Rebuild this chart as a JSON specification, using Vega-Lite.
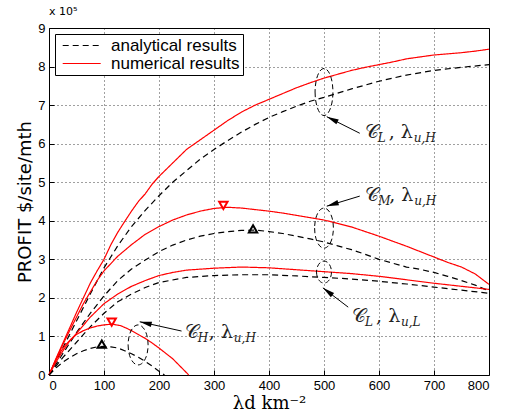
{
  "$schema": "https://vega.github.io/schema/vega-lite/v6.json",
  "width": 440,
  "height": 347,
  "autosize": {"type": "none"},
  "padding": {"left": 49, "top": 28, "right": 16, "bottom": 39},
  "background": "#ffffff",
  "title": {"text": "x 10⁵", "anchor": "start", "frame": "group", "fontSize": 11, "font": "DejaVu Sans", "fontWeight": "normal", "offset": 5, "color": "#000000"},
  "config": {
    "view": {"stroke": "#000000", "strokeWidth": 1},
    "axis": {"grid": true, "gridColor": "#000000", "gridDash": [1, 3], "gridOpacity": 0.75, "domain": false, "tickColor": "#000000", "tickSize": -5, "labelFont": "Liberation Sans", "labelFontSize": 13, "labelColor": "#000000", "titleColor": "#000000", "titleFontWeight": "normal"},
    "legend": {"symbolType": "M -0.5 0 L 4.5 0", "symbolSize": 231, "symbolStrokeWidth": 1.2, "labelFont": "Liberation Sans", "labelFontSize": 17, "labelColor": "#000000", "fillColor": "#ffffff", "strokeColor": "#000000", "padding": 3, "rowPadding": 0, "labelOffset": 36}
  },
  "datasets": {
    "curves": [
      {"x": 0, "y": 0, "type": "numerical results", "curve": "R1"},
      {"x": 12.5, "y": 0.42, "type": "numerical results", "curve": "R1"},
      {"x": 25, "y": 0.82, "type": "numerical results", "curve": "R1"},
      {"x": 37.5, "y": 1.22, "type": "numerical results", "curve": "R1"},
      {"x": 50, "y": 1.62, "type": "numerical results", "curve": "R1"},
      {"x": 62.5, "y": 2.0, "type": "numerical results", "curve": "R1"},
      {"x": 75, "y": 2.38, "type": "numerical results", "curve": "R1"},
      {"x": 87.5, "y": 2.7, "type": "numerical results", "curve": "R1"},
      {"x": 100, "y": 3.0, "type": "numerical results", "curve": "R1"},
      {"x": 112.5, "y": 3.38, "type": "numerical results", "curve": "R1"},
      {"x": 125, "y": 3.7, "type": "numerical results", "curve": "R1"},
      {"x": 137.5, "y": 3.98, "type": "numerical results", "curve": "R1"},
      {"x": 150, "y": 4.25, "type": "numerical results", "curve": "R1"},
      {"x": 162.5, "y": 4.5, "type": "numerical results", "curve": "R1"},
      {"x": 175, "y": 4.7, "type": "numerical results", "curve": "R1"},
      {"x": 187.5, "y": 4.95, "type": "numerical results", "curve": "R1"},
      {"x": 200, "y": 5.15, "type": "numerical results", "curve": "R1"},
      {"x": 225, "y": 5.5, "type": "numerical results", "curve": "R1"},
      {"x": 250, "y": 5.85, "type": "numerical results", "curve": "R1"},
      {"x": 275, "y": 6.1, "type": "numerical results", "curve": "R1"},
      {"x": 300, "y": 6.35, "type": "numerical results", "curve": "R1"},
      {"x": 325, "y": 6.6, "type": "numerical results", "curve": "R1"},
      {"x": 350, "y": 6.82, "type": "numerical results", "curve": "R1"},
      {"x": 375, "y": 7.0, "type": "numerical results", "curve": "R1"},
      {"x": 400, "y": 7.15, "type": "numerical results", "curve": "R1"},
      {"x": 425, "y": 7.3, "type": "numerical results", "curve": "R1"},
      {"x": 450, "y": 7.45, "type": "numerical results", "curve": "R1"},
      {"x": 475, "y": 7.58, "type": "numerical results", "curve": "R1"},
      {"x": 500, "y": 7.7, "type": "numerical results", "curve": "R1"},
      {"x": 525, "y": 7.8, "type": "numerical results", "curve": "R1"},
      {"x": 550, "y": 7.9, "type": "numerical results", "curve": "R1"},
      {"x": 575, "y": 7.98, "type": "numerical results", "curve": "R1"},
      {"x": 600, "y": 8.05, "type": "numerical results", "curve": "R1"},
      {"x": 625, "y": 8.12, "type": "numerical results", "curve": "R1"},
      {"x": 650, "y": 8.2, "type": "numerical results", "curve": "R1"},
      {"x": 675, "y": 8.25, "type": "numerical results", "curve": "R1"},
      {"x": 700, "y": 8.3, "type": "numerical results", "curve": "R1"},
      {"x": 725, "y": 8.33, "type": "numerical results", "curve": "R1"},
      {"x": 750, "y": 8.36, "type": "numerical results", "curve": "R1"},
      {"x": 775, "y": 8.4, "type": "numerical results", "curve": "R1"},
      {"x": 800, "y": 8.45, "type": "numerical results", "curve": "R1"},

      {"x": 0, "y": 0, "type": "analytical results", "curve": "B1"},
      {"x": 25, "y": 0.7, "type": "analytical results", "curve": "B1"},
      {"x": 50, "y": 1.4, "type": "analytical results", "curve": "B1"},
      {"x": 75, "y": 2.1, "type": "analytical results", "curve": "B1"},
      {"x": 100, "y": 2.78, "type": "analytical results", "curve": "B1"},
      {"x": 125, "y": 3.35, "type": "analytical results", "curve": "B1"},
      {"x": 150, "y": 3.85, "type": "analytical results", "curve": "B1"},
      {"x": 175, "y": 4.27, "type": "analytical results", "curve": "B1"},
      {"x": 200, "y": 4.65, "type": "analytical results", "curve": "B1"},
      {"x": 225, "y": 5.0, "type": "analytical results", "curve": "B1"},
      {"x": 250, "y": 5.3, "type": "analytical results", "curve": "B1"},
      {"x": 275, "y": 5.6, "type": "analytical results", "curve": "B1"},
      {"x": 300, "y": 5.85, "type": "analytical results", "curve": "B1"},
      {"x": 325, "y": 6.08, "type": "analytical results", "curve": "B1"},
      {"x": 350, "y": 6.3, "type": "analytical results", "curve": "B1"},
      {"x": 375, "y": 6.5, "type": "analytical results", "curve": "B1"},
      {"x": 400, "y": 6.68, "type": "analytical results", "curve": "B1"},
      {"x": 425, "y": 6.83, "type": "analytical results", "curve": "B1"},
      {"x": 450, "y": 6.97, "type": "analytical results", "curve": "B1"},
      {"x": 475, "y": 7.1, "type": "analytical results", "curve": "B1"},
      {"x": 500, "y": 7.2, "type": "analytical results", "curve": "B1"},
      {"x": 550, "y": 7.42, "type": "analytical results", "curve": "B1"},
      {"x": 600, "y": 7.62, "type": "analytical results", "curve": "B1"},
      {"x": 650, "y": 7.78, "type": "analytical results", "curve": "B1"},
      {"x": 700, "y": 7.9, "type": "analytical results", "curve": "B1"},
      {"x": 750, "y": 7.98, "type": "analytical results", "curve": "B1"},
      {"x": 800, "y": 8.05, "type": "analytical results", "curve": "B1"},

      {"x": 0, "y": 0, "type": "numerical results", "curve": "R2"},
      {"x": 12.5, "y": 0.4, "type": "numerical results", "curve": "R2"},
      {"x": 25, "y": 0.78, "type": "numerical results", "curve": "R2"},
      {"x": 37.5, "y": 1.15, "type": "numerical results", "curve": "R2"},
      {"x": 50, "y": 1.5, "type": "numerical results", "curve": "R2"},
      {"x": 62.5, "y": 1.85, "type": "numerical results", "curve": "R2"},
      {"x": 75, "y": 2.15, "type": "numerical results", "curve": "R2"},
      {"x": 87.5, "y": 2.45, "type": "numerical results", "curve": "R2"},
      {"x": 100, "y": 2.7, "type": "numerical results", "curve": "R2"},
      {"x": 125, "y": 3.08, "type": "numerical results", "curve": "R2"},
      {"x": 150, "y": 3.38, "type": "numerical results", "curve": "R2"},
      {"x": 175, "y": 3.65, "type": "numerical results", "curve": "R2"},
      {"x": 200, "y": 3.85, "type": "numerical results", "curve": "R2"},
      {"x": 225, "y": 4.02, "type": "numerical results", "curve": "R2"},
      {"x": 250, "y": 4.15, "type": "numerical results", "curve": "R2"},
      {"x": 275, "y": 4.25, "type": "numerical results", "curve": "R2"},
      {"x": 300, "y": 4.32, "type": "numerical results", "curve": "R2"},
      {"x": 325, "y": 4.35, "type": "numerical results", "curve": "R2"},
      {"x": 350, "y": 4.33, "type": "numerical results", "curve": "R2"},
      {"x": 375, "y": 4.29, "type": "numerical results", "curve": "R2"},
      {"x": 400, "y": 4.25, "type": "numerical results", "curve": "R2"},
      {"x": 425, "y": 4.2, "type": "numerical results", "curve": "R2"},
      {"x": 450, "y": 4.14, "type": "numerical results", "curve": "R2"},
      {"x": 475, "y": 4.08, "type": "numerical results", "curve": "R2"},
      {"x": 500, "y": 4.02, "type": "numerical results", "curve": "R2"},
      {"x": 525, "y": 3.93, "type": "numerical results", "curve": "R2"},
      {"x": 550, "y": 3.84, "type": "numerical results", "curve": "R2"},
      {"x": 575, "y": 3.72, "type": "numerical results", "curve": "R2"},
      {"x": 600, "y": 3.6, "type": "numerical results", "curve": "R2"},
      {"x": 625, "y": 3.47, "type": "numerical results", "curve": "R2"},
      {"x": 650, "y": 3.34, "type": "numerical results", "curve": "R2"},
      {"x": 675, "y": 3.2, "type": "numerical results", "curve": "R2"},
      {"x": 700, "y": 3.06, "type": "numerical results", "curve": "R2"},
      {"x": 725, "y": 2.92, "type": "numerical results", "curve": "R2"},
      {"x": 750, "y": 2.8, "type": "numerical results", "curve": "R2"},
      {"x": 775, "y": 2.62, "type": "numerical results", "curve": "R2"},
      {"x": 800, "y": 2.35, "type": "numerical results", "curve": "R2"},

      {"x": 0, "y": 0, "type": "analytical results", "curve": "B2"},
      {"x": 25, "y": 0.55, "type": "analytical results", "curve": "B2"},
      {"x": 50, "y": 1.1, "type": "analytical results", "curve": "B2"},
      {"x": 75, "y": 1.6, "type": "analytical results", "curve": "B2"},
      {"x": 100, "y": 2.05, "type": "analytical results", "curve": "B2"},
      {"x": 125, "y": 2.45, "type": "analytical results", "curve": "B2"},
      {"x": 150, "y": 2.75, "type": "analytical results", "curve": "B2"},
      {"x": 175, "y": 2.98, "type": "analytical results", "curve": "B2"},
      {"x": 200, "y": 3.2, "type": "analytical results", "curve": "B2"},
      {"x": 225, "y": 3.37, "type": "analytical results", "curve": "B2"},
      {"x": 250, "y": 3.5, "type": "analytical results", "curve": "B2"},
      {"x": 275, "y": 3.6, "type": "analytical results", "curve": "B2"},
      {"x": 300, "y": 3.67, "type": "analytical results", "curve": "B2"},
      {"x": 325, "y": 3.72, "type": "analytical results", "curve": "B2"},
      {"x": 350, "y": 3.75, "type": "analytical results", "curve": "B2"},
      {"x": 375, "y": 3.76, "type": "analytical results", "curve": "B2"},
      {"x": 400, "y": 3.72, "type": "analytical results", "curve": "B2"},
      {"x": 425, "y": 3.67, "type": "analytical results", "curve": "B2"},
      {"x": 450, "y": 3.6, "type": "analytical results", "curve": "B2"},
      {"x": 475, "y": 3.53, "type": "analytical results", "curve": "B2"},
      {"x": 500, "y": 3.45, "type": "analytical results", "curve": "B2"},
      {"x": 525, "y": 3.35, "type": "analytical results", "curve": "B2"},
      {"x": 550, "y": 3.25, "type": "analytical results", "curve": "B2"},
      {"x": 575, "y": 3.13, "type": "analytical results", "curve": "B2"},
      {"x": 600, "y": 3.0, "type": "analytical results", "curve": "B2"},
      {"x": 625, "y": 2.9, "type": "analytical results", "curve": "B2"},
      {"x": 650, "y": 2.8, "type": "analytical results", "curve": "B2"},
      {"x": 675, "y": 2.74, "type": "analytical results", "curve": "B2"},
      {"x": 700, "y": 2.66, "type": "analytical results", "curve": "B2"},
      {"x": 725, "y": 2.56, "type": "analytical results", "curve": "B2"},
      {"x": 750, "y": 2.45, "type": "analytical results", "curve": "B2"},
      {"x": 775, "y": 2.33, "type": "analytical results", "curve": "B2"},
      {"x": 800, "y": 2.18, "type": "analytical results", "curve": "B2"},

      {"x": 0, "y": 0, "type": "numerical results", "curve": "R3"},
      {"x": 12.5, "y": 0.33, "type": "numerical results", "curve": "R3"},
      {"x": 25, "y": 0.62, "type": "numerical results", "curve": "R3"},
      {"x": 37.5, "y": 0.88, "type": "numerical results", "curve": "R3"},
      {"x": 50, "y": 1.08, "type": "numerical results", "curve": "R3"},
      {"x": 75, "y": 1.5, "type": "numerical results", "curve": "R3"},
      {"x": 100, "y": 1.85, "type": "numerical results", "curve": "R3"},
      {"x": 125, "y": 2.1, "type": "numerical results", "curve": "R3"},
      {"x": 150, "y": 2.3, "type": "numerical results", "curve": "R3"},
      {"x": 175, "y": 2.45, "type": "numerical results", "curve": "R3"},
      {"x": 200, "y": 2.58, "type": "numerical results", "curve": "R3"},
      {"x": 225, "y": 2.66, "type": "numerical results", "curve": "R3"},
      {"x": 250, "y": 2.72, "type": "numerical results", "curve": "R3"},
      {"x": 300, "y": 2.77, "type": "numerical results", "curve": "R3"},
      {"x": 350, "y": 2.8, "type": "numerical results", "curve": "R3"},
      {"x": 400, "y": 2.78, "type": "numerical results", "curve": "R3"},
      {"x": 450, "y": 2.73, "type": "numerical results", "curve": "R3"},
      {"x": 500, "y": 2.68, "type": "numerical results", "curve": "R3"},
      {"x": 550, "y": 2.63, "type": "numerical results", "curve": "R3"},
      {"x": 600, "y": 2.56, "type": "numerical results", "curve": "R3"},
      {"x": 650, "y": 2.47, "type": "numerical results", "curve": "R3"},
      {"x": 700, "y": 2.38, "type": "numerical results", "curve": "R3"},
      {"x": 750, "y": 2.3, "type": "numerical results", "curve": "R3"},
      {"x": 800, "y": 2.22, "type": "numerical results", "curve": "R3"},

      {"x": 0, "y": 0, "type": "analytical results", "curve": "B3"},
      {"x": 25, "y": 0.45, "type": "analytical results", "curve": "B3"},
      {"x": 50, "y": 0.85, "type": "analytical results", "curve": "B3"},
      {"x": 75, "y": 1.25, "type": "analytical results", "curve": "B3"},
      {"x": 100, "y": 1.6, "type": "analytical results", "curve": "B3"},
      {"x": 125, "y": 1.9, "type": "analytical results", "curve": "B3"},
      {"x": 150, "y": 2.1, "type": "analytical results", "curve": "B3"},
      {"x": 175, "y": 2.27, "type": "analytical results", "curve": "B3"},
      {"x": 200, "y": 2.4, "type": "analytical results", "curve": "B3"},
      {"x": 250, "y": 2.53, "type": "analytical results", "curve": "B3"},
      {"x": 300, "y": 2.58, "type": "analytical results", "curve": "B3"},
      {"x": 350, "y": 2.6, "type": "analytical results", "curve": "B3"},
      {"x": 400, "y": 2.6, "type": "analytical results", "curve": "B3"},
      {"x": 450, "y": 2.57, "type": "analytical results", "curve": "B3"},
      {"x": 500, "y": 2.53, "type": "analytical results", "curve": "B3"},
      {"x": 550, "y": 2.49, "type": "analytical results", "curve": "B3"},
      {"x": 600, "y": 2.43, "type": "analytical results", "curve": "B3"},
      {"x": 650, "y": 2.36, "type": "analytical results", "curve": "B3"},
      {"x": 700, "y": 2.28, "type": "analytical results", "curve": "B3"},
      {"x": 750, "y": 2.2, "type": "analytical results", "curve": "B3"},
      {"x": 800, "y": 2.12, "type": "analytical results", "curve": "B3"},

      {"x": 0, "y": 0, "type": "numerical results", "curve": "R4"},
      {"x": 10, "y": 0.32, "type": "numerical results", "curve": "R4"},
      {"x": 20, "y": 0.58, "type": "numerical results", "curve": "R4"},
      {"x": 30, "y": 0.78, "type": "numerical results", "curve": "R4"},
      {"x": 40, "y": 0.93, "type": "numerical results", "curve": "R4"},
      {"x": 50, "y": 1.05, "type": "numerical results", "curve": "R4"},
      {"x": 62.5, "y": 1.15, "type": "numerical results", "curve": "R4"},
      {"x": 75, "y": 1.22, "type": "numerical results", "curve": "R4"},
      {"x": 87.5, "y": 1.27, "type": "numerical results", "curve": "R4"},
      {"x": 100, "y": 1.3, "type": "numerical results", "curve": "R4"},
      {"x": 115, "y": 1.32, "type": "numerical results", "curve": "R4"},
      {"x": 130, "y": 1.28, "type": "numerical results", "curve": "R4"},
      {"x": 140, "y": 1.22, "type": "numerical results", "curve": "R4"},
      {"x": 150, "y": 1.15, "type": "numerical results", "curve": "R4"},
      {"x": 162.5, "y": 1.05, "type": "numerical results", "curve": "R4"},
      {"x": 175, "y": 0.95, "type": "numerical results", "curve": "R4"},
      {"x": 187.5, "y": 0.83, "type": "numerical results", "curve": "R4"},
      {"x": 200, "y": 0.7, "type": "numerical results", "curve": "R4"},
      {"x": 212.5, "y": 0.56, "type": "numerical results", "curve": "R4"},
      {"x": 225, "y": 0.42, "type": "numerical results", "curve": "R4"},
      {"x": 237.5, "y": 0.24, "type": "numerical results", "curve": "R4"},
      {"x": 250, "y": 0.06, "type": "numerical results", "curve": "R4"},
      {"x": 254, "y": 0, "type": "numerical results", "curve": "R4"},

      {"x": 0, "y": 0, "type": "analytical results", "curve": "B4"},
      {"x": 12.5, "y": 0.18, "type": "analytical results", "curve": "B4"},
      {"x": 25, "y": 0.33, "type": "analytical results", "curve": "B4"},
      {"x": 37.5, "y": 0.45, "type": "analytical results", "curve": "B4"},
      {"x": 50, "y": 0.55, "type": "analytical results", "curve": "B4"},
      {"x": 62.5, "y": 0.63, "type": "analytical results", "curve": "B4"},
      {"x": 75, "y": 0.69, "type": "analytical results", "curve": "B4"},
      {"x": 87.5, "y": 0.73, "type": "analytical results", "curve": "B4"},
      {"x": 100, "y": 0.74, "type": "analytical results", "curve": "B4"},
      {"x": 112.5, "y": 0.73, "type": "analytical results", "curve": "B4"},
      {"x": 125, "y": 0.7, "type": "analytical results", "curve": "B4"},
      {"x": 137.5, "y": 0.63, "type": "analytical results", "curve": "B4"},
      {"x": 150, "y": 0.55, "type": "analytical results", "curve": "B4"},
      {"x": 162.5, "y": 0.46, "type": "analytical results", "curve": "B4"},
      {"x": 175, "y": 0.35, "type": "analytical results", "curve": "B4"},
      {"x": 187.5, "y": 0.23, "type": "analytical results", "curve": "B4"},
      {"x": 200, "y": 0.1, "type": "analytical results", "curve": "B4"},
      {"x": 210, "y": 0, "type": "analytical results", "curve": "B4"}
    ],
    "peaks": [
      {"x": 317, "y": 4.4, "type": "numerical results"},
      {"x": 114, "y": 1.37, "type": "numerical results"},
      {"x": 371, "y": 3.79, "type": "analytical results"},
      {"x": 96, "y": 0.8, "type": "analytical results"}
    ],
    "arrows": [
      {"x": 565, "y": 6.27, "x2": 505, "y2": 6.7},
      {"x": 565, "y": 4.64, "x2": 505, "y2": 4.38},
      {"x": 544, "y": 1.76, "x2": 498, "y2": 2.26},
      {"x": 241, "y": 1.14, "x2": 165, "y2": 1.38}
    ],
    "labels": [
      {"x": 574, "y": 6.15, "s1": "L", "s2": "u,H"},
      {"x": 575, "y": 4.51, "s1": "M", "s2": "u,H"},
      {"x": 551, "y": 1.37, "s1": "L", "s2": "u,L"},
      {"x": 247, "y": 0.96, "s1": "H", "s2": "u,H"}
    ]
  },
  "encoding": {
    "x": {"field": "x", "type": "quantitative", "scale": {"domain": [0, 800], "nice": false},
          "axis": {"values": [0, 100, 200, 300, 400, 500, 600, 700, 800], "labelPadding": 9, "title": "λd km⁻²", "titleFont": "DejaVu Serif", "titleFontSize": 18, "titlePadding": 2}},
    "y": {"field": "y", "type": "quantitative", "scale": {"domain": [0, 9], "nice": false},
          "axis": {"values": [0, 1, 2, 3, 4, 5, 6, 7, 8, 9], "labelPadding": 9, "title": "PROFIT $/site/mth", "titleFont": "DejaVu Sans", "titleFontSize": 18, "titlePadding": 3}}
  },
  "layer": [
    {
      "data": {"name": "curves"},
      "mark": {"type": "line", "strokeWidth": 1.2},
      "encoding": {
        "detail": {"field": "curve"},
        "color": {"field": "type", "type": "nominal", "scale": {"domain": ["analytical results", "numerical results"], "range": ["#000000", "#ff0000"]}, "legend": {"title": null, "orient": "top-left", "offset": 6}},
        "strokeDash": {"field": "type", "type": "nominal", "scale": {"domain": ["analytical results", "numerical results"], "range": [[6, 4], [1, 0]]}, "legend": {"title": null, "orient": "top-left", "offset": 6}}
      }
    },
    {
      "data": {"name": "peaks"},
      "transform": [{"filter": "datum.type === 'numerical results'"}],
      "mark": {"type": "point", "shape": "triangle-down", "filled": false, "stroke": "#ff0000", "strokeWidth": 2, "size": 70, "opacity": 1}
    },
    {
      "data": {"name": "peaks"},
      "transform": [{"filter": "datum.type === 'analytical results'"}],
      "mark": {"type": "point", "shape": "triangle-up", "filled": false, "stroke": "#000000", "strokeWidth": 2, "size": 70, "opacity": 1}
    },
    {
      "data": {"values": [{"x": 500, "y": 7.34}]},
      "mark": {"type": "point", "shape": "M -0.38 0 A 0.38 1 0 1 0 0.38 0 A 0.38 1 0 1 0 -0.38 0 Z", "size": 2209, "filled": false, "stroke": "#000000", "strokeWidth": 1, "strokeDash": [5, 3], "opacity": 1}
    },
    {
      "data": {"values": [{"x": 500, "y": 3.81}]},
      "mark": {"type": "point", "shape": "M -0.47 0 A 0.47 1 0 1 0 0.47 0 A 0.47 1 0 1 0 -0.47 0 Z", "size": 1600, "filled": false, "stroke": "#000000", "strokeWidth": 1, "strokeDash": [5, 3], "opacity": 1}
    },
    {
      "data": {"values": [{"x": 500, "y": 2.67}]},
      "mark": {"type": "point", "shape": "M -0.68 0 A 0.68 1 0 1 0 0.68 0 A 0.68 1 0 1 0 -0.68 0 Z", "size": 484, "filled": false, "stroke": "#000000", "strokeWidth": 1, "strokeDash": [5, 3], "opacity": 1}
    },
    {
      "data": {"values": [{"x": 162, "y": 0.78}]},
      "mark": {"type": "point", "shape": "M -0.5 0 A 0.5 1 0 1 0 0.5 0 A 0.5 1 0 1 0 -0.5 0 Z", "size": 1600, "filled": false, "stroke": "#000000", "strokeWidth": 1, "strokeDash": [5, 3], "opacity": 1}
    },
    {
      "data": {"name": "arrows"},
      "mark": {"type": "rule", "color": "#000000", "strokeWidth": 1},
      "encoding": {"x2": {"field": "x2"}, "y2": {"field": "y2"}}
    },
    {
      "data": {"values": [{"x": 505, "y": 6.7}]},
      "mark": {"type": "point", "shape": "M 0 0 L 0.45 2 L -0.45 2 Z", "size": 144, "filled": true, "color": "#000000", "opacity": 1, "angle": 296}
    },
    {
      "data": {"values": [{"x": 505, "y": 4.38}]},
      "mark": {"type": "point", "shape": "M 0 0 L 0.45 2 L -0.45 2 Z", "size": 144, "filled": true, "color": "#000000", "opacity": 1, "angle": 253}
    },
    {
      "data": {"values": [{"x": 498, "y": 2.26}]},
      "mark": {"type": "point", "shape": "M 0 0 L 0.45 2 L -0.45 2 Z", "size": 144, "filled": true, "color": "#000000", "opacity": 1, "angle": 307}
    },
    {
      "data": {"values": [{"x": 165, "y": 1.38}]},
      "mark": {"type": "point", "shape": "M 0 0 L 0.45 2 L -0.45 2 Z", "size": 144, "filled": true, "color": "#000000", "opacity": 1, "angle": 283}
    },
    {
      "data": {"name": "labels"},
      "mark": {"type": "text", "text": "𝒞", "align": "left", "baseline": "alphabetic", "font": "DejaVu Serif", "fontSize": 19, "color": "#222222"}
    },
    {
      "data": {"name": "labels"},
      "mark": {"type": "text", "align": "left", "baseline": "alphabetic", "font": "DejaVu Serif", "fontStyle": "italic", "fontSize": 12, "color": "#222222", "dx": 13, "dy": 4},
      "encoding": {"text": {"field": "s1"}}
    },
    {
      "data": {"name": "labels"},
      "mark": {"type": "text", "text": ", λ", "align": "left", "baseline": "alphabetic", "font": "DejaVu Serif", "fontSize": 19, "color": "#222222", "dx": 24}
    },
    {
      "data": {"name": "labels"},
      "mark": {"type": "text", "align": "left", "baseline": "alphabetic", "font": "DejaVu Serif", "fontStyle": "italic", "fontSize": 12, "color": "#222222", "dx": 49, "dy": 4},
      "encoding": {"text": {"field": "s2"}}
    }
  ]
}
